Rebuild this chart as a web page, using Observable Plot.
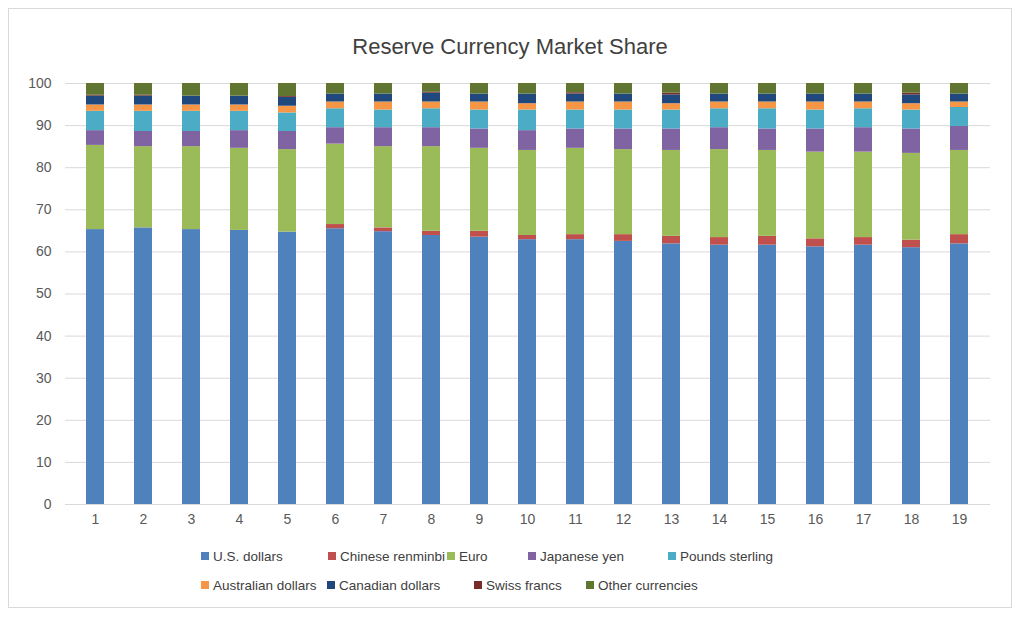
<!DOCTYPE html>
<html><head><meta charset="utf-8">
<script src="https://cdn.jsdelivr.net/npm/d3@7"></script>
<script src="https://cdn.jsdelivr.net/npm/@observablehq/plot@0.6"></script>
<style>
body{margin:0;background:#fff;font-family:"Liberation Sans",Arial,sans-serif;}
#wrap{position:absolute;left:8px;top:8px;width:1002px;height:598px;border:1px solid #d9d9d9;}
#title{padding-top:22px;line-height:32px;height:32px;text-align:center;font-size:22px;color:#404040;}
#legend{position:absolute;left:0;top:0;width:100%;}
.li{position:absolute;font-size:13.5px;color:#404040;white-space:nowrap;line-height:16px;}
.sw{display:inline-block;width:8px;height:8px;margin-right:4px;vertical-align:1px;}
</style></head><body>
<div id="wrap"><div id="title">Reserve Currency Market Share</div><div id="chart"></div><div id="legend"></div></div>
<script>
const periods = d3.range(1, 20).map(String);
const currencies = ["U.S. dollars","Chinese renminbi","Euro","Japanese yen","Pounds sterling","Australian dollars","Canadian dollars","Swiss francs","Other currencies"];
const colors = ["#4f81bd","#c0504d","#9bbb59","#8064a2","#4bacc6","#f79646","#1f497d","#772c2a","#5f7530"];
const usd   = [65.3,65.7,65.3,65.1,64.7,65.5,64.8,63.9,63.5,62.9,62.9,62.5,61.9,61.6,61.6,61.2,61.6,61.0,61.9];
const cny   = [0,0,0,0,0,1.0,0.9,1.0,1.4,1.0,1.2,1.6,1.8,1.8,2.1,1.9,1.8,1.8,2.2];
const eur   = [20.0,19.3,19.7,19.5,19.6,19.1,19.3,20.1,19.7,20.2,20.5,20.2,20.4,20.9,20.4,20.6,20.3,20.6,20.0];
const jpy   = [3.5,3.6,3.6,4.2,4.3,3.9,4.5,4.5,4.6,4.7,4.6,4.9,5.1,5.2,5.1,5.5,5.8,5.8,5.7];
const gbp   = [4.6,4.8,4.8,4.6,4.4,4.5,4.2,4.5,4.5,4.9,4.5,4.5,4.5,4.5,4.8,4.5,4.5,4.5,4.5];
const aud   = [1.5,1.5,1.5,1.5,1.6,1.6,1.9,1.6,1.9,1.5,1.9,1.9,1.5,1.6,1.6,1.9,1.6,1.5,1.3];
const cad   = [2.1,2.1,2.1,2.1,2.1,1.9,1.9,2.1,1.9,2.3,1.9,1.9,2.1,1.9,1.9,1.9,1.9,2.1,1.9];
const chf   = [0.2,0.2,0,0,0.2,0,0,0.2,0,0,0.3,0,0.4,0,0,0,0,0.4,0];
const other = [2.8,2.8,3.0,3.0,3.1,2.5,2.5,2.1,2.5,2.5,2.2,2.5,2.3,2.5,2.5,2.5,2.5,2.3,2.5];
const series = [usd,cny,eur,jpy,gbp,aud,cad,chf,other];
const data = [];
periods.forEach((p,i)=>currencies.forEach((c,j)=>data.push({period:p,currency:c,value:series[j][i]})));

const chart = Plot.plot({
  width:1002, height:471, marginTop:20, marginBottom:30, marginLeft:56, marginRight:21,
  style:{fontFamily:"Liberation Sans, Arial, sans-serif", fontSize:"14px", color:"#595959", background:"transparent"},
  x:{domain:periods, paddingInner:0.62, paddingOuter:0.28, label:null},
  y:{domain:[0,100], label:null},
  color:{domain:currencies, range:colors},
  marks:[
    Plot.gridY(d3.range(0,101,10),{stroke:"#d9d9d9", strokeOpacity:1}),
    Plot.barY(data,{x:"period", y:"value", fill:"currency", order:currencies}),
    Plot.axisX({tickSize:0, tickPadding:10}),
    Plot.axisY({ticks:d3.range(0,101,10), tickSize:0, tickPadding:14})
  ]
});
document.getElementById("chart").appendChild(chart);

const legendPos = [[192,548],[319,548],[438,548],[519,548],[659,548],[192,577],[318,577],[465,577],[577,577]];
const lg = document.getElementById("legend");
currencies.forEach((c,i)=>{
  const s=document.createElement("span"); s.className="li";
  s.style.left=legendPos[i][0]+"px"; s.style.top=(legendPos[i][1]-8)+"px";
  s.innerHTML=`<span class="sw" style="background:${colors[i]}"></span>${c}`;
  lg.appendChild(s);
});
</script></body></html>
